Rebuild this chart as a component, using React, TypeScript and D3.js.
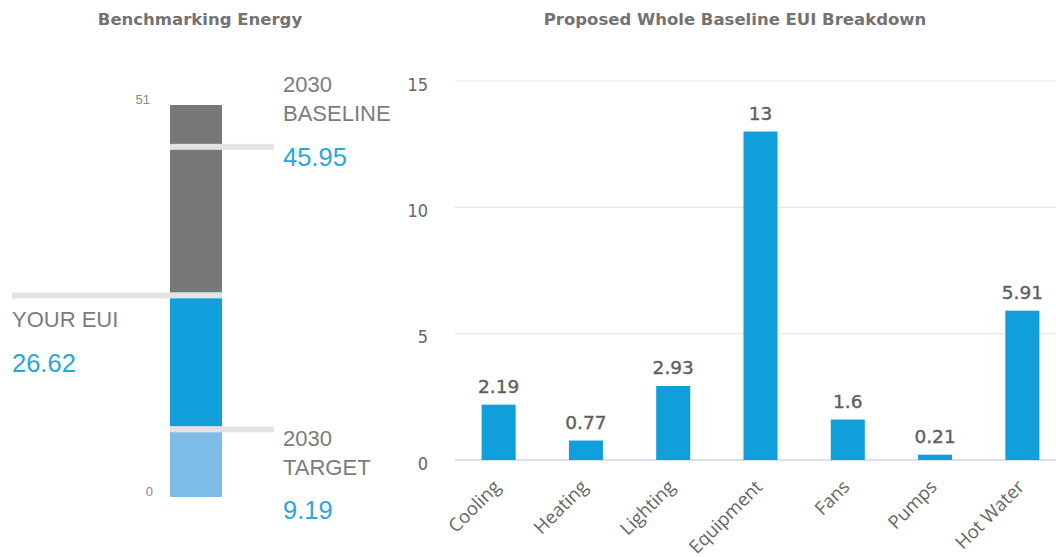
import React from "react";
import * as d3 from "d3";

const benchMax = 51;
const benchMin = 0;
const baselineValue = 45.95;
const yourEui = 26.62;
const targetValue = 9.19;

const categories = ["Cooling", "Heating", "Lighting", "Equipment", "Fans", "Pumps", "Hot Water"];
const values = [2.19, 0.77, 2.93, 13, 1.6, 0.21, 5.91];
const valueLabels = ["2.19", "0.77", "2.93", "13", "1.6", "0.21", "5.91"];
const yTicks = [0, 5, 10, 15];

const W = 1056;
const H = 557;
const BLUE = "#109fdb";
const LIGHTBLUE = "#7fbde9";
const GRAY = "#787878";
const LINE = "#e3e3e3";
const LABEL = "#7c7c7c";
const NUM = "#2aa5de";
const LF = "'Liberation Sans', Arial, sans-serif";
const TF = "'DejaVu Sans', Verdana, sans-serif";
const CF = "'DejaVu Sans Condensed', 'DejaVu Sans', sans-serif";
const OF = "'Open Sans', sans-serif";

export default function App() {
  // left benchmark
  const by = d3.scaleLinear().domain([benchMin, benchMax]).range([497, 105]);
  const bx0 = 170, bx1 = 222;
  const segs = [
    { from: yourEui, to: benchMax, color: GRAY },
    { from: targetValue, to: yourEui, color: BLUE },
    { from: benchMin, to: targetValue, color: LIGHTBLUE },
  ];
  const markerLines = [
    { v: baselineValue, x0: bx0, x1: 274 },
    { v: yourEui, x0: 12, x1: bx1 },
    { v: targetValue, x0: bx0, x1: 274 },
  ];

  // right bar chart
  const y = d3.scaleLinear().domain([0, 15]).range([460, 81]);
  const x = d3.scaleBand<string>().domain(categories).range([455, 1066]).paddingInner(0.61).paddingOuter(0.305);

  return (
    <svg width={W} height={H} style={{ position: "absolute", left: 0, top: 0, background: "#fff" }}>
      {/* Titles */}
      <text x={200} y={25} textAnchor="middle" fontFamily={TF} fontWeight="bold" fontSize={16.5} fill="#737373">
        Benchmarking Energy
      </text>
      <text x={735} y={25} textAnchor="middle" fontFamily={TF} fontWeight="bold" fontSize={16.5} fill="#737373">
        Proposed Whole Baseline EUI Breakdown
      </text>

      {/* Left chart */}
      {segs.map((s, i) => (
        <rect key={i} x={bx0} width={bx1 - bx0} y={by(s.to)} height={by(s.from) - by(s.to)} fill={s.color} />
      ))}
      {markerLines.map((m, i) => (
        <rect key={i} x={m.x0} width={m.x1 - m.x0} y={by(m.v)} height={6} fill={LINE} />
      ))}
      <text x={150} y={by(benchMax) - 1} textAnchor="end" fontFamily={LF} fontSize={13} fill="#888">{benchMax}</text>
      <text x={153} y={by(benchMin) - 1} textAnchor="end" fontFamily={LF} fontSize={13} fill="#888">{benchMin}</text>

      <text x={283} y={92} fontFamily={LF} fontSize={22} fill={LABEL}>2030</text>
      <text x={283} y={121} fontFamily={LF} fontSize={22} fill={LABEL}>BASELINE</text>
      <text x={283} y={166} fontFamily={LF} fontSize={25.5} fill={NUM}>{baselineValue}</text>

      <text x={12} y={327} fontFamily={LF} fontSize={22} fill={LABEL}>YOUR EUI</text>
      <text x={12} y={372} fontFamily={LF} fontSize={25.5} fill={NUM}>{yourEui}</text>

      <text x={283} y={446} fontFamily={LF} fontSize={22} fill={LABEL}>2030</text>
      <text x={283} y={475} fontFamily={LF} fontSize={22} fill={LABEL}>TARGET</text>
      <text x={283} y={519} fontFamily={LF} fontSize={25.5} fill={NUM}>{targetValue}</text>

      {/* Right chart grid */}
      {yTicks.map((t) => (
        <g key={t}>
          <line x1={455} x2={W} y1={y(t)} y2={y(t)} stroke={t === 0 ? "#ccd6eb" : "#e6e6e6"} strokeWidth={t === 0 ? 1.5 : 1.2} />
          <text x={428} y={y(t) + 9.5} textAnchor="end" fontFamily={CF} fontStretch="condensed" fontSize={18} fill="#666">{t}</text>
        </g>
      ))}
      {categories.map((c, i) => {
        const cx = (x(c) as number) + x.bandwidth() / 2;
        return (
          <g key={c}>
            <rect x={x(c)} width={x.bandwidth()} y={y(values[i])} height={y(0) - y(values[i])} fill={BLUE} />
            <text x={cx} y={y(values[i]) - 11.5} textAnchor="middle" fontFamily={TF} fontSize={18.5} fill="#5f5f5f" stroke="#5f5f5f" strokeWidth={0.4}>
              {valueLabels[i]}
            </text>
            <text transform={`translate(${cx + 3},${488}) rotate(-45)`} textAnchor="end" fontFamily={OF} fontSize={18.5} fill="#666">
              {c}
            </text>
          </g>
        );
      })}
    </svg>
  );
}
